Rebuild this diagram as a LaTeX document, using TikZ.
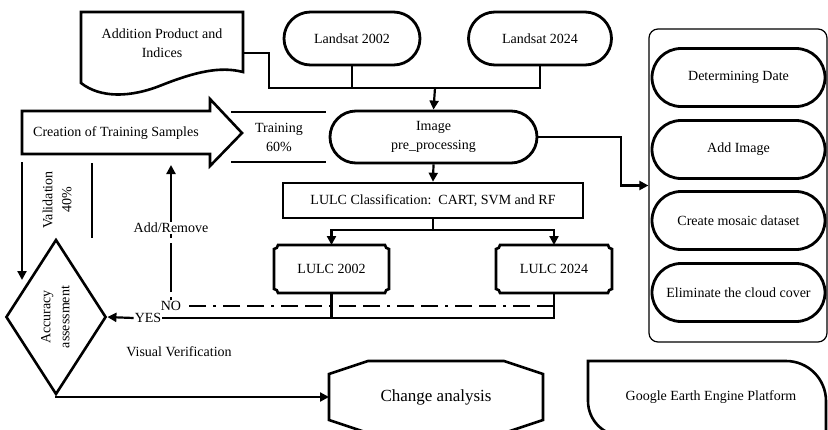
\documentclass[tikz,border=0pt]{standalone}
\usepackage{fontspec}
\setmainfont{Liberation Serif}
\usetikzlibrary{shapes.misc,shapes.geometric,arrows.meta}
\newcommand{\plaque}[1]{%
  \draw[line width=2.6pt] ([xshift=4pt]#1.north west) -- ([xshift=-4pt]#1.north east)
    arc[start angle=180,end angle=270,radius=4pt] -- ([yshift=4pt]#1.south east)
    arc[start angle=90,end angle=180,radius=4pt] -- ([xshift=4pt]#1.south west)
    arc[start angle=0,end angle=90,radius=4pt] -- ([yshift=-4pt]#1.north west)
    arc[start angle=270,end angle=360,radius=4pt] -- cycle;}
\newcommand{\octa}[1]{%
  \draw[line width=2.6pt] ([xshift=39pt]#1.north west) -- ([xshift=-39pt]#1.north east)
    -- ([yshift=-13pt]#1.north east) -- ([yshift=13pt]#1.south east)
    -- ([xshift=-39pt]#1.south east) -- ([xshift=39pt]#1.south west)
    -- ([yshift=13pt]#1.south west) -- ([yshift=-13pt]#1.north west) -- cycle;}
\begin{document}
\begin{tikzpicture}
  [x=1pt,y=-1pt,
   every node/.style={font=\fontsize{14}{19}\selectfont,align=center,inner sep=1pt},
   term/.style={rounded rectangle,draw,line width=2.8pt},
   box/.style={rectangle,draw,line width=2.6pt},
   flat/.style={outer sep=0pt},
   line/.style={line width=2.2pt},
   arr/.style={line width=2.2pt,-{Triangle[length=9pt,width=9pt]}},
   dashdot/.style={line width=2.4pt,dash pattern=on 17pt off 7pt on 17pt off 7pt on 3pt off 7pt}]
  \useasboundingbox (0,0) rectangle (828,429);

  % inputs
  \node (l02) [term,minimum width=138pt,minimum height=53pt] at (352,38.5) {Landsat 2002};
  \node (l24) [term,minimum width=145pt,minimum height=53pt] at (540,38.5) {Landsat 2024};
  \node (add) [minimum width=162pt] at (162,43) {Addition Product and\\Indices};
  \draw[line width=2.6pt] (81,12) -- (243,12) -- (243,72) .. controls (220,66) and (195,72) .. (162,85)
    .. controls (130,98) and (100,98) .. (81,83) -- cycle;
  \node (img) [term,minimum width=209pt,minimum height=52pt] at (433.5,137) {Image\\pre\_processing};
  \coordinate (bus) at (435,88);
  \draw[line] (l24.south) |- (269,88) |- ([yshift=-10pt]add.east);
  \draw[line] (l02.south) -- (l02.south |- bus);
  \draw[arr] (bus) -- (img.north);

  % platform steps
  \node (pnl) [draw,rounded corners=9pt,line width=1.2pt,minimum width=178pt,minimum height=313pt] at (738,185.5) {};
  \foreach \y/\t [count=\i] in {77.5/Determining Date,149.5/Add Image,220.5/Create mosaic dataset,292.5/Eliminate the cloud cover}
    \node (s\i) [term,minimum width=175pt,minimum height=58pt] at (738.5,\y) {\t};
  \draw[arr] (img.east) -- (621,137) |- (pnl.west);

  % classification
  \node (cls) [box,minimum width=300pt,minimum height=35pt] at (433,200.5) {LULC Classification:\ \ CART, SVM and RF};
  \draw[arr] (img.south) -- (cls.north);
  \node (lc02) [flat,minimum width=115pt,minimum height=48pt] at (331.5,269) {LULC 2002};
  \node (lc24) [flat,minimum width=116pt,minimum height=48pt] at (554,269) {LULC 2024};
  \plaque{lc02} \plaque{lc24}
  \coordinate (split) at (433,230);
  \draw[line] (cls.south) -- (split);
  \foreach \n in {lc02,lc24}
    \draw[arr] (split) -| (\n.north);

  % training samples
  \draw[line width=2.6pt] (22,111) -- (210,111) -- (210,99) -- (242,133) -- (210,166) -- (210,154) -- (22,154) -- cycle;
  \node (cts) at (116,133) {Creation of Training Samples};
  \node (trn) at (279,137) {Training\\60\%};
  \draw[line] (231,112) -- (326,112) (231,162) -- (326,162);
  \node (val) [rotate=90] at (57,200) {Validation\\40\%};
  \draw[line width=2.6pt] (92,163) -- (92,238);
  \coordinate (vtop) at (22,162);
  \coordinate (vend) at (22,280);
  \draw[arr] (vtop) -- (vend);

  % accuracy
  \node (acc) [diamond,draw,line width=2.6pt,minimum width=86pt,minimum height=155pt,inner sep=0pt] at (56,317)
    {\rotatebox{90}{\begin{tabular}{@{}c@{}}Accuracy\\assessment\end{tabular}}};
  \node (yes) at (148,318) {YES};
  \node (no) at (171,306) {NO};
  \draw[line] (lc24.south) |- (yes.east);
  \draw[line] (lc02.south) -- (lc02.south |- yes.east);
  \draw[arr] (yes.west) -- (acc.east);
  \draw[dashdot] (lc24.south |- no.east) -- (no.east);
  \coordinate (back) at (171,165);
  \draw[arr,dash pattern=on 3pt off 5pt on 49pt off 5pt on 80pt off 1pt] (no.north) -- (back);
  \node (adr) [fill=white] at (171,228) {Add/Remove};
  \node (vis) at (179,352) {Visual Verification};

  % outputs
  \node (cha) [flat,minimum width=214pt,minimum height=72pt,font=\fontsize{17}{20}\selectfont] at (436,397) {Change analysis};
  \octa{cha}
  \draw[arr] (acc.south) |- (cha.west);
  \node (gee) at (711,397) {Google Earth Engine Platform};
  \draw[line width=2.6pt] (826,450) -- (826,401) arc[start angle=0,end angle=90,radius=40pt] -- (588,361)
    -- (588,401) arc[start angle=180,end angle=270,radius=35pt] -- (840,436);
\end{tikzpicture}
\end{document}
